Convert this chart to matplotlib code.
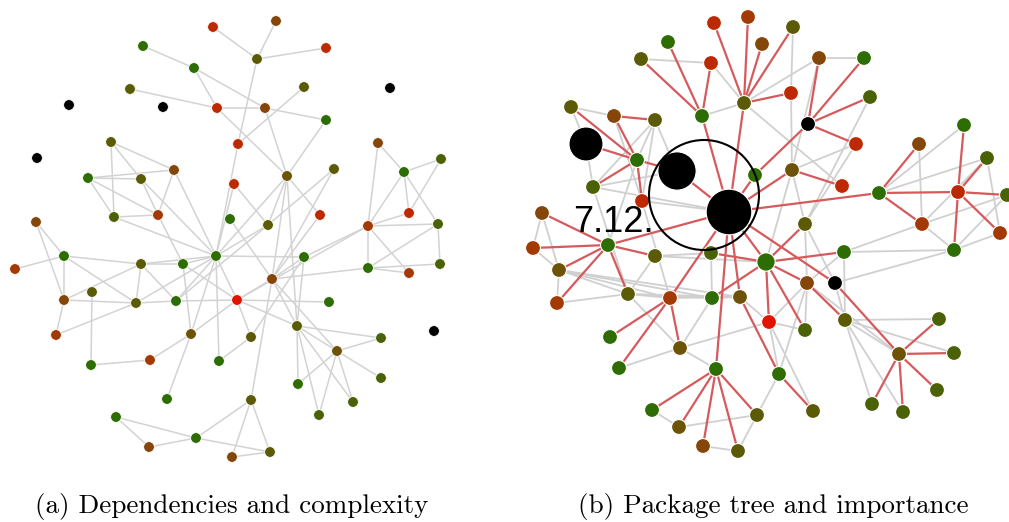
import matplotlib
matplotlib.use("Agg")
import matplotlib.pyplot as plt
from matplotlib.patches import Circle

# colour classes used by the nodes
palette = {
    "r": "#bd2a02",   # red
    "R": "#e01400",   # bright red
    "rb": "#a33a04",  # red-brown
    "b": "#85460a",   # brown
    "bo": "#6c5307",  # brown-olive
    "o": "#5b5b06",   # olive
    "og": "#4a6106",  # olive-green
    "g": "#2e6c04",   # green
    "k": "#000000",   # black
}

# ---------------- panel (a): dependencies and complexity ----------------
a_x = [213, 143, 194, 130, 69, 163, 217, 238, 37, 111, 174, 88, 141, 234, 36, 114, 158, 230,
       276, 257, 326, 304, 390, 265, 326, 378, 441, 404, 287, 334, 320, 268, 409, 368, 438,
       64, 15, 141, 183, 216, 92, 64, 136, 176, 237, 56, 191, 251, 91, 150, 219, 167, 251,
       116, 196, 149, 232, 304, 272, 368, 409, 440, 329, 434, 297, 381, 337, 381, 298, 353,
       319, 270]
a_y = [27, 46, 68, 89, 105, 107, 108, 144, 158, 142, 170, 178, 179, 184, 222, 217, 215, 219,
       21, 59, 48, 87, 88, 108, 120, 143, 159, 172, 176, 169, 215, 225, 213, 226, 224,
       256, 269, 264, 264, 256, 292, 300, 303, 301, 300, 335, 334, 337, 365, 360, 361, 399, 400,
       417, 438, 447, 457, 257, 279, 268, 273, 264, 302, 331, 326, 338, 351, 378, 384, 402,
       415, 452]
a_cls = ["r", "g", "g", "o", "k", "k", "r", "r", "k", "o", "b", "g", "o", "r", "b", "og", "rb", "g",
         "b", "o", "r", "o", "k", "b", "g", "b", "og", "g", "bo", "o", "r", "o", "r", "rb", "og",
         "g", "rb", "o", "g", "g", "o", "b", "o", "g", "R", "rb", "bo", "o", "g", "rb", "g", "g", "o",
         "g", "g", "b", "b", "g", "b", "g", "rb", "og", "g", "k", "o", "og", "bo", "og", "g", "og",
         "og", "o"]
a_edges = [(0, 19), (1, 2), (2, 23), (2, 6), (3, 6), (6, 23), (6, 28), (7, 21), (7, 19), (13, 39),
           (7, 39), (13, 31), (9, 10), (9, 12), (9, 15), (11, 10), (11, 12), (11, 16), (11, 15),
           (12, 16), (12, 39), (10, 16), (10, 39), (15, 16), (15, 39), (16, 38), (17, 58),
           (14, 41), (14, 35), (18, 19), (19, 20), (23, 24), (23, 28), (24, 28), (25, 27), (25, 33),
           (27, 26), (27, 32), (27, 33), (27, 34), (26, 32), (29, 31), (28, 30), (28, 31),
           (33, 32), (33, 34), (33, 59), (33, 60), (33, 57), (34, 59), (34, 61), (59, 60), (59, 61),
           (59, 58), (57, 58), (57, 64), (57, 39), (58, 44), (58, 64), (58, 66), (58, 52), (44, 62),
           (44, 64), (44, 47), (64, 65), (64, 66), (64, 68), (64, 70), (64, 69), (66, 65), (66, 67),
           (66, 68), (66, 70), (66, 69), (52, 71), (52, 56), (47, 50), (35, 36), (35, 37), (35, 41),
           (35, 42), (37, 38), (37, 42), (37, 41), (37, 43), (38, 39), (38, 46), (38, 44), (39, 42),
           (39, 43), (39, 44), (39, 46), (39, 50), (39, 37), (40, 48), (41, 42), (41, 45), (45, 42),
           (42, 43), (43, 44), (46, 49), (46, 51), (46, 44), (48, 49), (53, 54), (53, 55), (55, 54),
           (54, 52), (54, 71), (56, 71), (31, 39), (31, 43), (28, 39), (28, 58), (28, 64), (30, 58),
           (57, 47), (33, 44), (29, 58)]

# ---------------- panel (b): package tree and importance ----------------
b_x = [714, 748, 762, 668, 641, 711, 571, 614, 655, 702, 744, 637, 593, 642, 542, 755, 793, 819,
       864, 791, 870, 808, 856, 964, 919, 987, 792, 842, 879, 958, 1007, 805, 922, 1000, 533,
       608, 559, 655, 711, 766, 557, 628, 670, 712, 740, 769, 610, 680, 619, 716, 652, 679, 757,
       703, 738, 844, 954, 807, 835, 805, 845, 939, 899, 954, 779, 937, 813, 872, 903,
       586, 677, 729]
b_y = [23, 17, 44, 42, 59, 63, 107, 116, 120, 116, 103, 160, 187, 201, 213, 175, 27, 58,
       58, 93, 97, 124, 144, 125, 144, 158, 170, 186, 193, 192, 195, 224, 224, 233, 248,
       245, 270, 256, 253, 262, 303, 294, 298, 298, 297, 322, 337, 348, 368, 369, 410, 427, 415,
       446, 451, 252, 250, 283, 283, 330, 320, 319, 354, 353, 374, 390, 411, 404, 412,
       144, 171, 212]
b_cls = ["r", "rb", "b", "g", "o", "r", "o", "b", "o", "g", "o", "g", "og", "r", "b", "g", "o", "b",
         "g", "r", "og", "k", "r", "g", "b", "og", "bo", "r", "g", "r", "og", "o", "rb", "rb", "rb",
         "g", "bo", "o", "og", "g", "rb", "o", "rb", "g", "bo", "R", "g", "bo", "g", "g", "g", "bo", "o",
         "b", "o", "g", "g", "b", "k", "og", "o", "og", "bo", "og", "g", "og", "o", "og", "og",
         "k", "k", "k"]
# node importance -> marker area
b_size = [115] * 69 + [600, 760, 1080]
b_size[39] = 175

b_red_edges = [(10, 0), (10, 1), (10, 2), (10, 16), (10, 19), (9, 3), (9, 4), (9, 5), (9, 71),
               (10, 71), (6, 11), (7, 8), (7, 11), (69, 11), (11, 12), (11, 13), (11, 70), (70, 71),
               (14, 35), (35, 71), (15, 71), (15, 21), (17, 21), (18, 21), (20, 21), (21, 22),
               (26, 27), (26, 71), (28, 71), (28, 24), (28, 32), (28, 29), (29, 23), (29, 25),
               (29, 30), (29, 33), (29, 56), (35, 34), (35, 36), (35, 40), (35, 41), (35, 37),
               (42, 46), (42, 48), (42, 47), (42, 71), (49, 71), (49, 50), (49, 51), (49, 53),
               (49, 54), (49, 52), (39, 38), (39, 43), (39, 55), (39, 57), (39, 45), (39, 59),
               (39, 31), (71, 58), (58, 62), (62, 61), (62, 63), (62, 65), (62, 67), (62, 68),
               (57, 60), (44, 64), (64, 66), (71, 39), (71, 44)]
b_gray_edges = [(4, 5), (5, 10), (9, 10), (6, 7), (8, 11), (8, 12), (69, 12), (7, 13), (8, 13),
                (12, 71), (12, 70), (13, 71), (14, 36), (16, 19), (17, 18), (17, 10), (17, 26),
                (19, 26), (20, 31), (22, 31), (23, 28), (25, 28), (24, 32), (32, 56), (25, 32),
                (25, 33), (30, 32), (30, 56), (33, 56), (56, 55), (32, 55), (56, 58), (55, 57),
                (55, 60), (26, 31), (31, 57), (26, 39), (57, 45), (57, 62), (57, 59), (60, 61),
                (60, 62), (60, 67), (60, 68), (60, 63), (45, 59), (45, 66), (64, 52), (34, 36),
                (36, 40), (36, 41), (41, 37), (41, 42), (36, 42), (36, 43), (37, 38), (37, 39),
                (38, 43), (41, 43), (41, 44), (43, 44), (40, 41), (47, 41), (47, 43), (47, 45),
                (48, 47), (50, 51), (53, 54), (52, 54), (51, 52), (44, 42), (8, 70), (6, 69),
                (11, 35), (12, 41), (13, 42), (10, 27), (22, 26), (31, 58), (44, 45), (64, 45),
                (34, 14), (57, 64), (58, 60), (36, 44), (49, 47)]

ring_center = (704, 195)
ring_radius = 55
version_label = "7.12."
captions = ["(a) Dependencies and complexity", "(b) Package tree and importance"]

fig = plt.figure(figsize=(10.09, 5.22), dpi=100)
ax_a = fig.add_axes([0, 0, 0.5, 1])
ax_b = fig.add_axes([0.5, 0, 0.5, 1])
for ax, lo, hi in [(ax_a, 0, 504.5), (ax_b, 504.5, 1009)]:
    ax.set_xlim(lo, hi)
    ax.set_ylim(522, 0)
    ax.axis("off")

# panel a
for i, j in a_edges:
    ax_a.plot([a_x[i], a_x[j]], [a_y[i], a_y[j]], color="#d3d3d3", lw=1.1, zorder=1,
              solid_capstyle="round")
ax_a.scatter(a_x, a_y, s=60, c=[palette[c] for c in a_cls], edgecolors="white",
             linewidths=0.6, zorder=3, clip_on=False)

# panel b
for i, j in b_gray_edges:
    ax_b.plot([b_x[i], b_x[j]], [b_y[i], b_y[j]], color="#d0d0d0", lw=1.3, zorder=1)
for i, j in b_red_edges:
    ax_b.plot([b_x[i], b_x[j]], [b_y[i], b_y[j]], color="#d65a5c", lw=1.6, zorder=2)
ax_b.scatter(b_x, b_y, s=b_size, c=[palette[c] for c in b_cls], edgecolors="white",
             linewidths=0.8, zorder=3, clip_on=False)
ax_b.add_patch(Circle(ring_center, ring_radius, fill=False, ec="black", lw=1.5, zorder=4))
ax_b.text(573, 232, version_label, fontsize=26, family="Liberation Sans", color="black",
          ha="left", va="baseline", zorder=5)

fig.text(232 / 1009, 1 - 507 / 522, captions[0], ha="center", va="center",
         family="cmr10", fontsize=19.5)
fig.text(773 / 1009, 1 - 507 / 522, captions[1], ha="center", va="center",
         family="cmr10", fontsize=19.5)

fig.savefig("out.png", dpi=100, facecolor="white")
